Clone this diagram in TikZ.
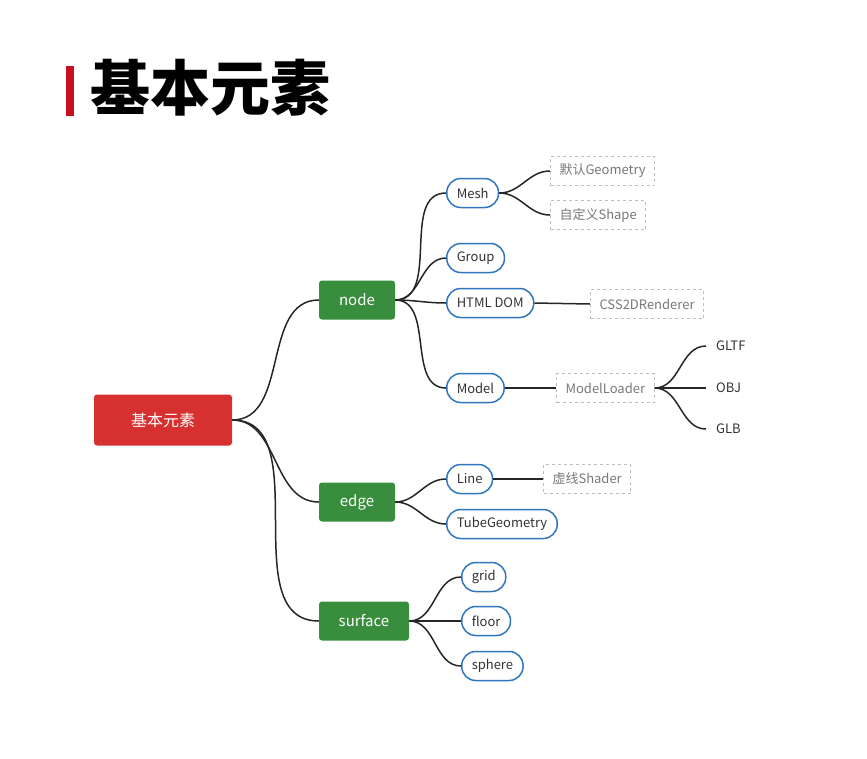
\documentclass[tikz,border=0pt]{standalone}
\usepackage{fontspec}
\setmainfont{Noto Sans CJK SC}
\definecolor{rootred}{RGB}{214,48,49}
\definecolor{barred}{RGB}{200,16,30}
\definecolor{mgreen}{RGB}{56,142,60}
\definecolor{lblue}{RGB}{48,118,190}
\definecolor{dgray}{RGB}{190,190,195}
\definecolor{tgray}{RGB}{120,120,120}
\begin{document}
\begin{tikzpicture}[x=1pt,y=-1pt,
  link/.style={line width=1.5pt, draw=black!85},
  rootbox/.style={rectangle, rounded corners=3pt, fill=rootred, text=white,
    minimum width=138pt, minimum height=51pt, font=\fontsize{16}{18}\selectfont},
  mainbox/.style={rectangle, rounded corners=3pt, fill=mgreen, text=white,
    minimum height=39pt, font=\fontsize{15}{17}\selectfont},
  leaf/.style={rectangle, rounded corners=14pt, draw=lblue, line width=1.5pt, fill=white,
    anchor=west, inner xsep=10pt, minimum height=29pt, text=black!80,
    font=\fontsize{13}{15}\selectfont},
  dbox/.style={rectangle, draw=dgray, dashed, line width=1pt, anchor=west,
    inner xsep=9pt, minimum height=29pt, text=tgray, font=\fontsize{13}{15}\selectfont},
  fmt/.style={anchor=west, inner xsep=10pt, text=black!80, font=\fontsize{13}{15}\selectfont}]
  \useasboundingbox (0,0) rectangle (867,758);

  % title
  \fill[barred] (66,66) rectangle (74,116);
  \node[anchor=west, inner sep=0pt, font=\fontsize{60}{62}\selectfont\bfseries] (title) at (90,88) {基本元素};

  % main branches
  \node[rootbox] (root) at (163,420) {基本元素};
  \node[mainbox, minimum width=76pt] (node) at (357,300) {node};
  \node[mainbox, minimum width=76pt] (edge) at (357,502) {edge};
  \node[mainbox, minimum width=90pt] (surface) at (364,621) {surface};

  % node children
  \node[leaf] (mesh) at (446,193) {Mesh};
  \node[leaf] (group) at (446,258) {Group};
  \node[leaf] (html) at (446,303) {HTML DOM};
  \node[leaf] (model) at (446,388) {Model};
  \node[dbox] (geom) at (550,171) {默认Geometry};
  \node[dbox] (shape) at (550,215) {自定义Shape};
  \node[dbox] (css) at (590,304) {CSS2DRenderer};
  \node[dbox] (loader) at (556,388) {ModelLoader};
  \node[fmt] (gltf) at (706,346) {GLTF};
  \node[fmt] (obj) at (706,388) {OBJ};
  \node[fmt] (glb) at (706,429) {GLB};

  % edge children
  \node[leaf] (line) at (446,479) {Line};
  \node[leaf] (tube) at (446,524) {TubeGeometry};
  \node[dbox] (shader) at (543,479) {虚线Shader};

  % surface children
  \node[leaf] (grid) at (461,577) {grid};
  \node[leaf] (floor) at (461,621) {floor};
  \node[leaf] (sphere) at (461,666) {sphere};

  % connectors
  \draw[link] (root.east) to[out=0,in=180] (node.west);
  \draw[link] (root.east) to[out=0,in=180] (edge.west);
  \draw[link] (root.east) to[out=0,in=180] (surface.west);

  \draw[link] (node.east) to[out=0,in=180] (mesh.west);
  \draw[link] (node.east) to[out=0,in=180] (group.west);
  \draw[link] (node.east) to[out=0,in=180] (html.west);
  \draw[link] (node.east) to[out=0,in=180] (model.west);
  \draw[link] (mesh.east) to[out=0,in=180] (geom.west);
  \draw[link] (mesh.east) to[out=0,in=180] (shape.west);
  \draw[link] (html.east) -- (css.west);
  \draw[link] (model.east) -- (loader.west);
  \draw[link] (loader.east) to[out=0,in=180] (gltf.west);
  \draw[link] (loader.east) -- (obj.west);
  \draw[link] (loader.east) to[out=0,in=180] (glb.west);

  \draw[link] (edge.east) to[out=0,in=180] (line.west);
  \draw[link] (edge.east) to[out=0,in=180] (tube.west);
  \draw[link] (line.east) -- (shader.west);

  \draw[link] (surface.east) to[out=0,in=180] (grid.west);
  \draw[link] (surface.east) -- (floor.west);
  \draw[link] (surface.east) to[out=0,in=180] (sphere.west);
\end{tikzpicture}
\end{document}
